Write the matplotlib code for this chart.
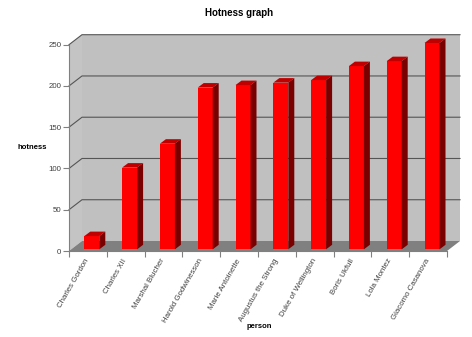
import matplotlib
matplotlib.use("Agg")
import matplotlib.pyplot as plt
from matplotlib.patches import Polygon
import numpy as np

people = ["Charles Gordon", "Charles XII", "Marshal Blucher", "Harold Godwinesson",
          "Marie Antoinette", "Augustus the Strong", "Duke of Wellington",
          "Boris Ukfull", "Lola Montez", "Giacomo Casanova"]
hotness = [16, 99, 128, 196, 199, 202, 205, 222, 228, 250]
yticks = [0, 50, 100, 150, 200, 250]

W, H = 472, 337
fig = plt.figure(figsize=(W / 100, H / 100), dpi=100)
plt.rcParams["font.family"] = ["Liberation Sans", "DejaVu Sans"]

# front plane of the 3D plot, in pixels
x0, x1, yb, yt = 69, 447, 251, 44.7
ax = fig.add_axes([x0 / W, (H - yb) / H, (x1 - x0) / W, (yb - yt) / H])
n = len(people)
ax.set_xlim(0, n)
ax.set_ylim(0, 250)

XU = n / (x1 - x0)          # data units per pixel
YU = 250 / (yb - yt)
wdx, wdy = 13 * XU, 10 * YU  # wall depth
bdx, bdy = 6 * XU, 4.5 * YU  # bar depth

kw = dict(clip_on=False, lw=0)
# walls and floor
ax.add_patch(Polygon([(0, 0), (0, 250), (wdx, 250 + wdy), (wdx, wdy)], fc="#c4c4c4", zorder=0, **kw))
ax.add_patch(Polygon([(wdx, wdy), (wdx, 250 + wdy), (n + wdx, 250 + wdy), (n + wdx, wdy)], fc="#c0c0c0", zorder=0, **kw))
for v in yticks[1:]:
    ax.plot([0, wdx, n + wdx], [v, v + wdy, v + wdy], color="#555555", lw=0.8, zorder=1, clip_on=False)
ax.add_patch(Polygon([(0, 0), (n, 0), (n + wdx, wdy), (wdx, wdy)], fc="#808080", zorder=1, **kw))

# bars
bw = 15 * XU
base = 1.7 * YU
xs = np.arange(n) + 0.5 + 3.9 * XU
ax.bar(xs, hotness, width=bw, bottom=base, color="#ff0000", zorder=3, clip_on=False)
for xc, v in zip(xs, hotness):
    l, r, top = xc - bw / 2, xc + bw / 2, v + base
    ax.add_patch(Polygon([(l, top), (r, top), (r + bdx, top + bdy), (l + bdx, top + bdy)],
                         fc="#c00000", zorder=3, **kw))
    ax.add_patch(Polygon([(r, base), (r, top), (r + bdx, top + bdy), (r + bdx, base + bdy)],
                         fc="#7a0000", zorder=3, **kw))

# axes styling
for s in ["top", "right"]:
    ax.spines[s].set_visible(False)
for s in ["left", "bottom"]:
    ax.spines[s].set_color("#808080")
    ax.spines[s].set_linewidth(0.8)
ax.set_yticks(yticks)
ax.tick_params(axis="y", colors="#808080", labelcolor="#404040", labelsize=5.7, length=4, width=0.8, pad=1.5)
ax.set_xticks(np.arange(n + 1))
ax.set_xticklabels([])
ax.tick_params(axis="x", which="major", colors="#808080", length=4, width=0.8)
ax.set_xticks(np.arange(n) + 0.5, minor=True)
ax.set_xticklabels(people, minor=True, rotation=60, ha="right", va="center",
                   rotation_mode="anchor", fontsize=5.7, color="#404040")
ax.tick_params(axis="x", which="minor", length=0, pad=6)

fig.text(32 / W, 1 - 147 / H, "hotness", fontsize=5.5, fontweight="bold", ha="center", va="center")
fig.text(259 / W, 1 - 327 / H, "person", fontsize=5.5, fontweight="bold", ha="center", va="center")
fig.text(239 / W, 1 - 13 / H, "Hotness graph", fontsize=7, fontweight="bold", ha="center", va="center")

fig.savefig("out.png", dpi=100)
